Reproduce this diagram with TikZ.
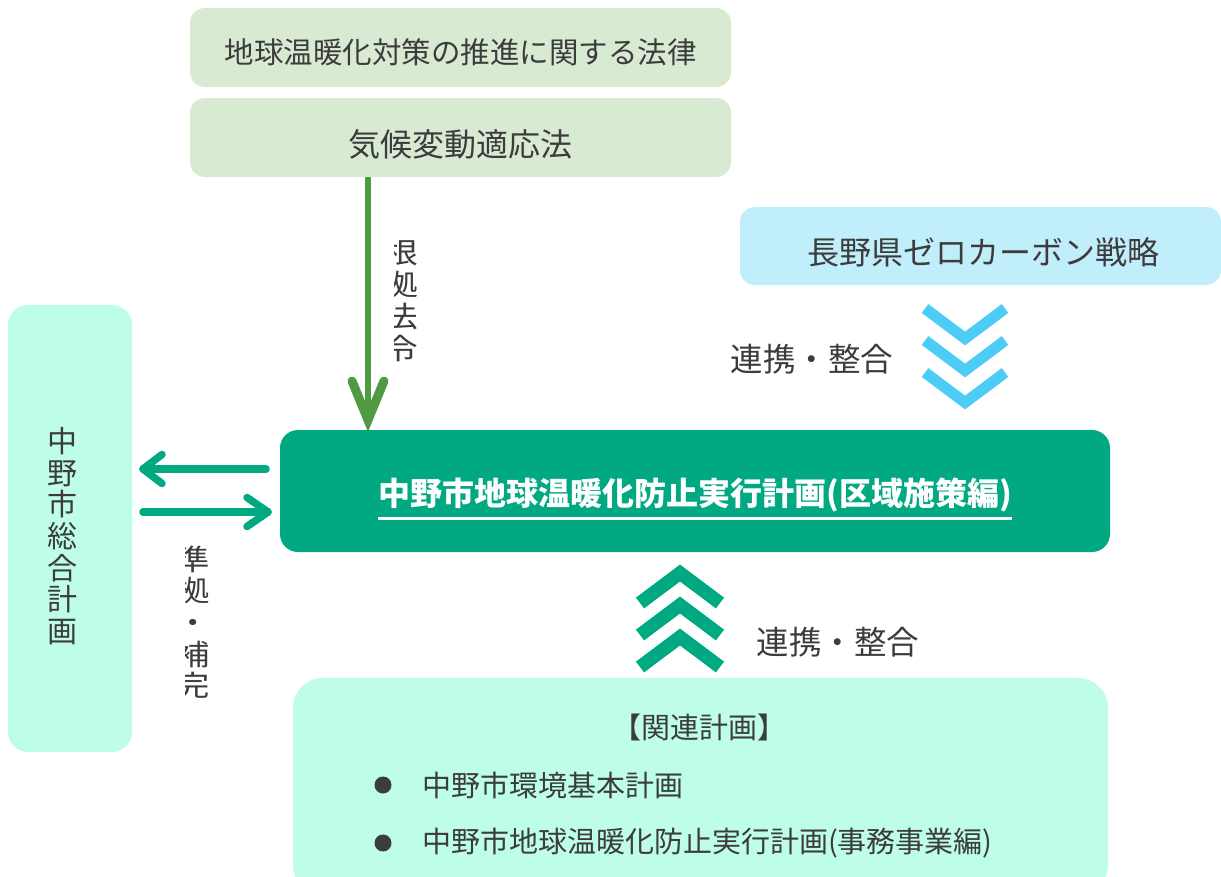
\documentclass[tikz,border=0pt]{standalone}
\usepackage{fontspec}
\newfontfamily\jp{Noto Sans CJK JP}
\usetikzlibrary{calc}
\definecolor{lawc}{HTML}{D9EAD3}
\definecolor{prefc}{HTML}{C1EEFB}
\definecolor{mintc}{HTML}{BDFDEA}
\definecolor{tealc}{HTML}{00A982}
\definecolor{garc}{HTML}{4F9A43}
\definecolor{chevb}{HTML}{4DCDF6}
\definecolor{txtc}{HTML}{3C3C3C}
\begin{document}
\begin{tikzpicture}[x=1pt,y=-1pt,
  box/.style={rounded corners=#1, inner sep=0pt, outer sep=0pt, draw=none},
  lbl/.style={inner sep=0pt, outer sep=0pt, text=txtc, font=\jp\fontsize{#1}{#1}\selectfont},
  vlbl/.style={inner sep=0pt, outer sep=0pt, text=txtc, align=center, font=\jp\fontsize{#1}{31.7}\selectfont},
  gshaft/.style={draw=garc, line width=6.5pt},
  ghead/.style={draw=garc, line width=9pt, line cap=round, line join=miter},
  tline/.style={draw=tealc, line width=7.5pt, line cap=round, line join=round},
  chevblue/.style={draw=chevb, line width=11pt, line cap=butt, line join=miter},
  chevgreen/.style={draw=tealc, line width=13.5pt, line cap=butt, line join=miter},
  bulletdot/.style={circle, fill=txtc, minimum size=17pt, inner sep=0pt}
]
\clip (0,0) rectangle (1221,876);
\fill[white] (0,0) rectangle (1221,876);

% law boxes
\node[box=15pt, fill=lawc, minimum width=541, minimum height=79] (law1) at (460.5,47.5) {};
\node[lbl=29.5] (law1t) at (460.5,52) {地球温暖化対策の推進に関する法律};
\node[box=15pt, fill=lawc, minimum width=541, minimum height=79] (law2) at (460.5,137.5) {};
\node[lbl=32] (law2t) at (460.5,144) {気候変動適応法};

% prefecture box
\node[box=15pt, fill=prefc, minimum width=481, minimum height=78] (pref) at (980.5,246) {};
\node[lbl=32] (preft) at (983,252) {長野県ゼロカーボン戦略};

% city general plan
\node[box=20pt, fill=mintc, minimum width=124, minimum height=447] (left) at (70,528.5) {};
\node[vlbl=30] (leftt) at (62,536) {中\\野\\市\\総\\合\\計\\画};

% main plan
\node[box=18pt, fill=tealc, minimum width=830, minimum height=122] (main) at (695,491) {};
\node[inner sep=0pt, text=white, font=\jp\bfseries\fontsize{32}{32}\selectfont] (title) at (695,495) {中野市地球温暖化防止実行計画(区域施策編)};
\draw[white, line width=2.5pt] ([yshift=-6pt]title.south west) -- ([yshift=-6pt]title.south east);

% related plans
\node[box=30pt, fill=mintc, minimum width=815, minimum height=217] (rel) at (700.5,786.5) {};
\node[lbl=29] (relt) at (699,727) {【関連計画】};
\node[bulletdot] (b1) at (383,785) {};
\node[lbl=29, anchor=west] (rel1) at (422,785) {中野市環境基本計画};
\node[bulletdot] (b2) at (383,843) {};
\node[lbl=29, anchor=west] (rel2) at (422,843) {中野市地球温暖化防止実行計画(事務事業編)};

% green arrow (legal basis)
\coordinate (gx) at (368,0);
\draw[gshaft] (law2.south -| gx) -- ($(main.north -| gx)+(0,-12)$);
\draw[ghead] ($(main.north -| gx)+(-16,-49)$) -- ($(main.north -| gx)+(0,-10)$) -- ($(main.north -| gx)+(16,-49)$);
\begin{scope}
  \clip (394,200) rectangle (440,400);
  \node[vlbl=29, xscale=1.2] (basis) at (401,300.5) {根\\拠\\法\\令};
\end{scope}

% teal arrows
\coordinate (ua) at (0,469);
\coordinate (la) at (0,512);
\draw[tline] ($(main.west |- ua)+(-14,0)$) -- ($(left.east |- ua)+(11,0)$);
\draw[tline] ($(left.east |- ua)+(30,-14.5)$) -- ($(left.east |- ua)+(11,0)$) -- ($(left.east |- ua)+(30,14.5)$);
\draw[tline] ($(left.east |- la)+(11,0)$) -- ($(main.west |- la)+(-12,0)$);
\draw[tline] ($(main.west |- la)+(-33,-14.5)$) -- ($(main.west |- la)+(-12,0)$) -- ($(main.west |- la)+(-33,14.5)$);
\begin{scope}
  \clip (185,530) rectangle (240,710);
  \node[vlbl=29, xscale=1.15] (conf) at (193,622.5) {準\\拠\\・\\補\\完};
\end{scope}

% chevrons
\foreach \k in {0,1,2} {
  \draw[chevblue] (925,{308.5+32*\k}) -- (965,{338.5+32*\k}) -- (1005,{308.5+32*\k});
  \draw[chevgreen] (640,{667-32*\k}) -- (680,{637-32*\k}) -- (720,{667-32*\k});
}
\node[lbl=32.5] (coop1) at (812,359) {連携・整合};
\node[lbl=32.5] (coop2) at (838,642.5) {連携・整合};
\end{tikzpicture}
\end{document}
